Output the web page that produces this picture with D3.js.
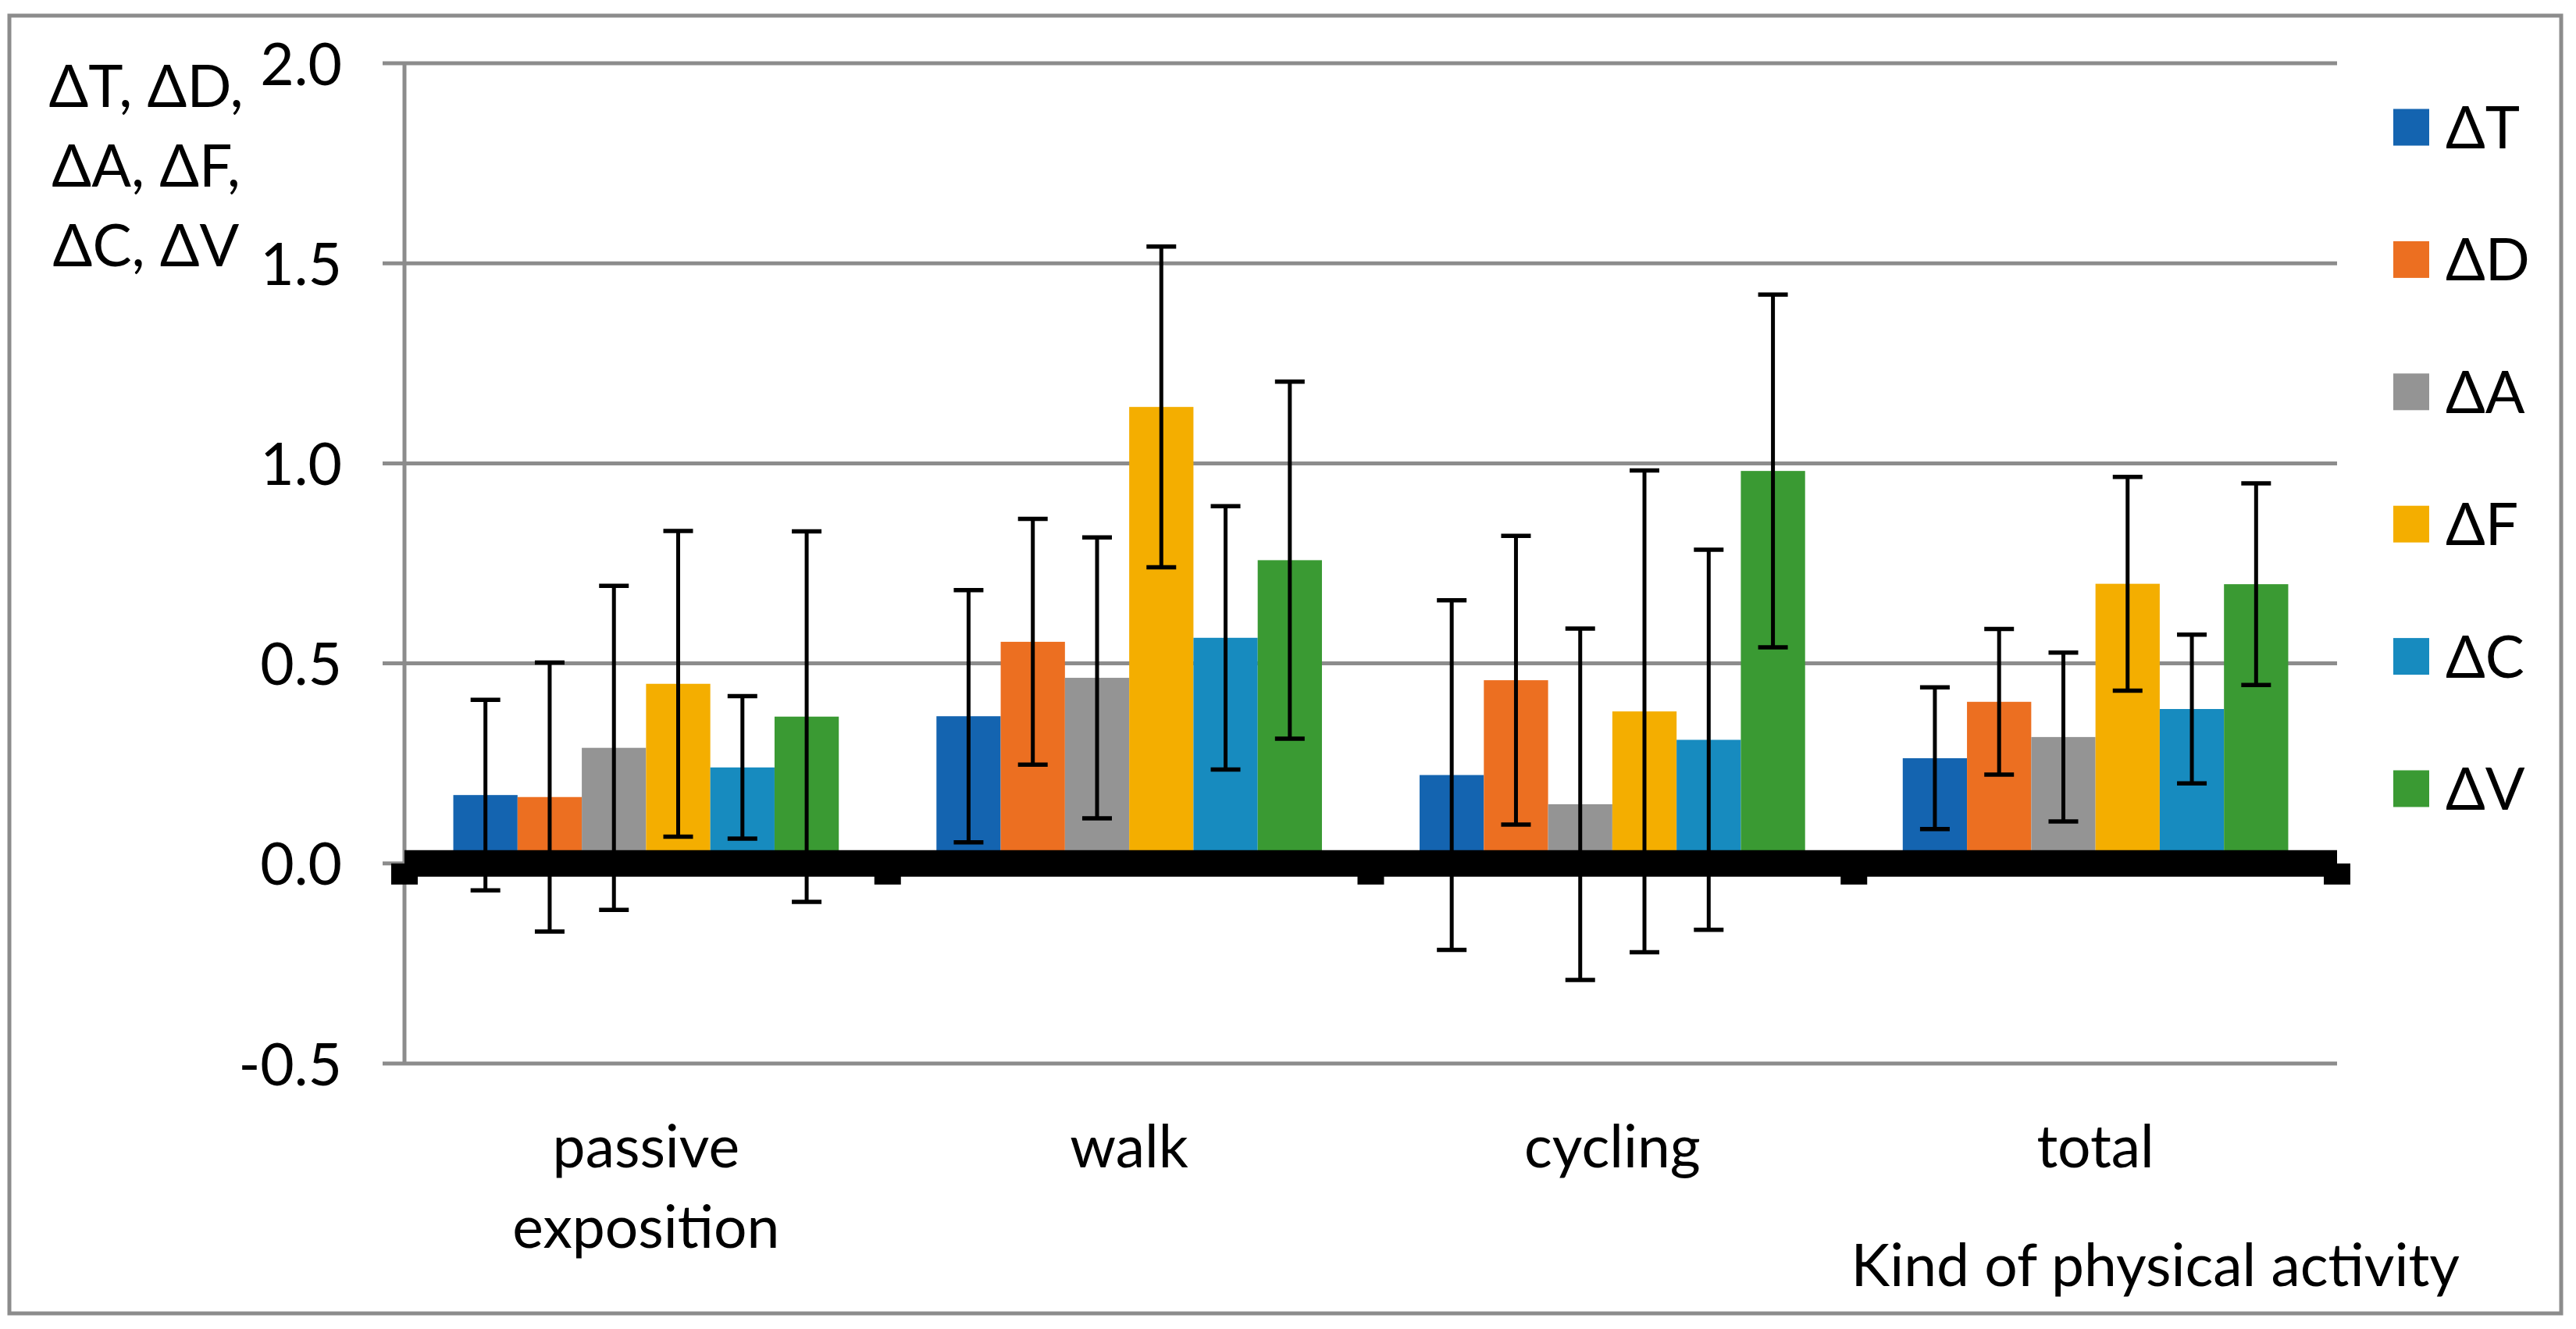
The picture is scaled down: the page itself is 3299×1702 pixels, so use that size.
<!DOCTYPE html>
<html lang="en">
<head>
<meta charset="UTF-8">
<title>Kind of physical activity</title>
<script src="https://d3js.org/d3.v7.min.js"></script>
<style>
    body { margin: 0; padding: 0; background: #fff; }
    svg { display: block; background: #fff; }
    text { font-family: Lato, 'Open Sans', sans-serif; fill: #000; }
</style>
</head>
<body>
<svg width="3299" height="1702"></svg>
<script>
// categories (x axis), each entry split into lines
var categories = [["passive", "exposition"], ["walk"], ["cycling"], ["total"]];
var seriesNames = ["ΔT", "ΔD", "ΔA", "ΔF", "ΔC", "ΔV"];
var yTicks = [-0.5, 0.0, 0.5, 1.0, 1.5, 2.0];

// mean values per series (passive, walk, cycling, total)
var dT = [0.171, 0.368, 0.221, 0.263];
var dD = [0.166, 0.554, 0.458, 0.404];
var dA = [0.289, 0.464, 0.148, 0.316];
var dF = [0.449, 1.141, 0.380, 0.699];
var dC = [0.240, 0.564, 0.309, 0.386];
var dV = [0.367, 0.758, 0.981, 0.698];

// +/- error per series
var eT = [0.238, 0.315, 0.437, 0.177];
var eD = [0.336, 0.307, 0.361, 0.182];
var eA = [0.405, 0.351, 0.439, 0.211];
var eF = [0.382, 0.401, 0.602, 0.267];
var eC = [0.178, 0.329, 0.475, 0.186];
var eV = [0.463, 0.446, 0.441, 0.252];

var colors = ["#1464b0", "#ec6f21", "#949494", "#f4ae00", "#178bbf", "#3a9a33"];

var means = [dT, dD, dA, dF, dC, dV];
var errs = [eT, eD, eA, eF, eC, eV];

var svg = d3.select("svg");
var fs = 75;
var grey = "#8c8c8c";

// plot area
var pLeft = 518, pRight = 2993, pTop = 81, pBottom = 1362;

var catKeys = categories.map(function(c) { return c.join(" "); });
var x0 = d3.scaleBand().domain(catKeys).range([pLeft, pRight]);
var x1 = d3.scaleBand().domain(seriesNames).range([0, x0.bandwidth()]).paddingOuter(0.76);
var y = d3.scaleLinear().domain([-0.5, 2.0]).range([pBottom, pTop]);

// outer frame
svg.append("rect")
    .attr("x", 12).attr("y", 20)
    .attr("width", 3268).attr("height", 1662)
    .attr("fill", "none").attr("stroke", grey).attr("stroke-width", 5);

// gridlines
svg.append("g").selectAll("line")
    .data(yTicks)
    .enter().append("line")
    .attr("x1", pLeft - 28).attr("x2", pRight)
    .attr("y1", function(d) { return y(d); })
    .attr("y2", function(d) { return y(d); })
    .attr("stroke", grey).attr("stroke-width", 5);

// y axis line
svg.append("line")
    .attr("x1", pLeft).attr("x2", pLeft)
    .attr("y1", y(2.0)).attr("y2", y(-0.5))
    .attr("stroke", grey).attr("stroke-width", 5);

// y tick labels
var yAxis = d3.axisLeft(y).tickValues(yTicks)
    .tickFormat(function(d) { return d.toFixed(1); })
    .tickSize(0).tickPadding(pLeft - 438);
var ya = svg.append("g").attr("transform", "translate(" + pLeft + ",0)").call(yAxis);
ya.select(".domain").remove();
ya.selectAll("text").attr("font-size", fs).attr("font-family", null).attr("dy", "0.36em");

// bars
var rows = [];
seriesNames.forEach(function(s, i) {
    catKeys.forEach(function(c, j) {
        rows.push({s: s, c: c, v: means[i][j], e: errs[i][j], color: colors[i]});
    });
});

svg.append("g").selectAll("rect")
    .data(rows)
    .enter().append("rect")
    .attr("x", function(d) { return x0(d.c) + x1(d.s); })
    .attr("width", x1.bandwidth())
    .attr("y", function(d) { return y(d.v); })
    .attr("height", function(d) { return y(0) - y(d.v); })
    .attr("fill", function(d) { return d.color; });

// error bars
var eb = svg.append("g").selectAll("g")
    .data(rows)
    .enter().append("g")
    .attr("transform", function(d) { return "translate(" + (x0(d.c) + x1(d.s) + x1.bandwidth() / 2) + ",0)"; });
eb.append("line")
    .attr("y1", function(d) { return y(d.v + d.e); })
    .attr("y2", function(d) { return y(d.v - d.e); })
    .attr("stroke", "#000").attr("stroke-width", 5);
eb.append("line")
    .attr("x1", -19).attr("x2", 19)
    .attr("y1", function(d) { return y(d.v + d.e); })
    .attr("y2", function(d) { return y(d.v + d.e); })
    .attr("stroke", "#000").attr("stroke-width", 5.5);
eb.append("line")
    .attr("x1", -19).attr("x2", 19)
    .attr("y1", function(d) { return y(d.v - d.e); })
    .attr("y2", function(d) { return y(d.v - d.e); })
    .attr("stroke", "#000").attr("stroke-width", 5.5);

// heavy zero line with category ticks
svg.append("line")
    .attr("x1", pLeft).attr("x2", pRight)
    .attr("y1", y(0)).attr("y2", y(0))
    .attr("stroke", "#000").attr("stroke-width", 34);
var catTicks = catKeys.map(function(c) { return x0(c); }).concat([pRight]);
svg.append("g").selectAll("rect")
    .data(catTicks)
    .enter().append("rect")
    .attr("x", function(d) { return d - 17; })
    .attr("y", y(0))
    .attr("width", 34).attr("height", 27)
    .attr("fill", "#000");

// category labels
var cl = svg.append("g").selectAll("text")
    .data(categories)
    .enter().append("text")
    .attr("text-anchor", "middle")
    .attr("font-size", fs)
    .attr("x", function(d) { return x0(d.join(" ")) + x0.bandwidth() / 2; })
    .attr("y", 1495);
cl.selectAll("tspan")
    .data(function(d) { return d; })
    .enter().append("tspan")
    .attr("x", function() { return d3.select(this.parentNode).attr("x"); })
    .attr("dy", function(d, i) { return i === 0 ? 0 : 103; })
    .text(function(d) { return d; });

// x axis title
svg.append("text")
    .attr("x", 3150).attr("y", 1647)
    .attr("text-anchor", "end")
    .attr("font-size", fs)
    .text("Kind of physical activity");

// y axis title
var yTitle = ["ΔT, ΔD,", "ΔA, ΔF,", "ΔC, ΔV"];
svg.append("g").selectAll("text")
    .data(yTitle)
    .enter().append("text")
    .attr("x", 187)
    .attr("y", function(d, i) { return 137 + i * 102; })
    .attr("text-anchor", "middle")
    .attr("font-size", fs)
    .text(function(d) { return d; });

// legend
var lg = svg.append("g").selectAll("g")
    .data(seriesNames)
    .enter().append("g")
    .attr("transform", function(d, i) { return "translate(3065," + (163 + i * 169.4) + ")"; });
lg.append("rect")
    .attr("x", 0).attr("y", -23.5)
    .attr("width", 46).attr("height", 47)
    .attr("fill", function(d, i) { return colors[i]; });
lg.append("text")
    .attr("x", 67).attr("y", 0).attr("dy", "0.36em")
    .attr("font-size", fs)
    .text(function(d) { return d; });
</script>
</body>
</html>
